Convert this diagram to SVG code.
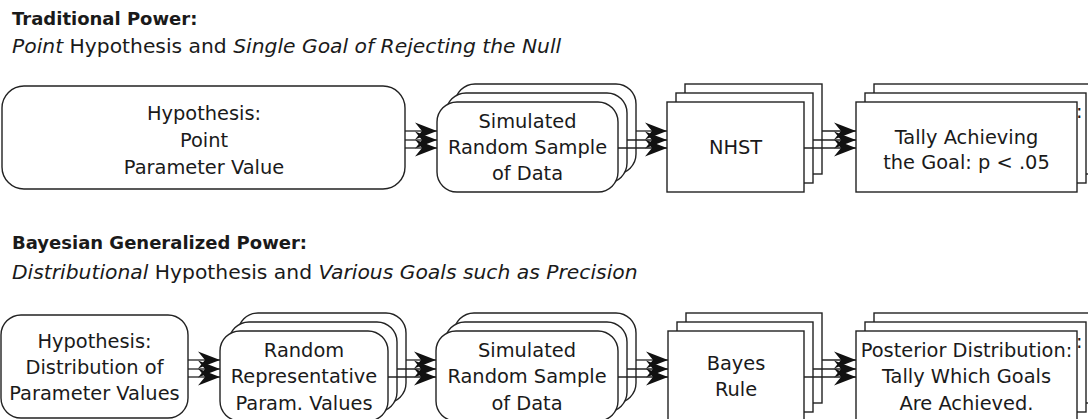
<svg xmlns="http://www.w3.org/2000/svg" width="1088" height="419" viewBox="0 0 1088 419">
<defs>
<style>
.bx{fill:#fff;stroke:#222;stroke-width:1.4}
.t{font-family:"DejaVu Sans",Verdana,sans-serif;font-size:19.4px;fill:#1a1a1a;text-anchor:middle}
.ttl{font-family:"DejaVu Sans",Verdana,sans-serif;font-size:18px;font-weight:bold;fill:#1a1a1a}
.sub{font-family:"DejaVu Sans",Verdana,sans-serif;font-size:20.3px;fill:#1a1a1a}
.it{font-style:italic}
.ln{stroke:#222;stroke-width:1.3;fill:none;marker-end:url(#ah)}
</style>
<marker id="ah" viewBox="-24 -10 25 20" refX="0" refY="0" markerWidth="25" markerHeight="20" markerUnits="userSpaceOnUse" orient="auto">
<path d="M0,0 L-22,-8.5 L-15,0 L-22,8.5 Z" fill="#111"/>
</marker>
</defs>

<g id="title-top">
<text class="ttl" x="12" y="25">Traditional Power:</text>
<text class="sub" x="12" y="53"><tspan class="it">Point</tspan> Hypothesis and <tspan class="it">Single Goal of Rejecting the Null</tspan></text>
</g>
<g id="title-bottom">
<text class="ttl" x="12" y="249">Bayesian Generalized Power:</text>
<text class="sub" x="12" y="279"><tspan class="it">Distributional</tspan> Hypothesis and <tspan class="it">Various Goals such as Precision</tspan></text>
</g>

<!-- top row -->
<g id="t-hyp">
<rect class="bx" x="2" y="86" width="403" height="103" rx="22"/>
<text class="t" x="204" y="120">Hypothesis:</text>
<text class="t" x="204" y="147">Point</text>
<text class="t" x="204" y="174">Parameter Value</text>
</g>
<g id="t-sim">
<rect class="bx" x="455" y="84" width="181" height="90" rx="20"/>
<rect class="bx" x="446" y="93" width="181" height="90" rx="20"/>
<rect class="bx" x="437" y="102" width="181" height="90" rx="20"/>
<text class="t" x="527.5" y="128">Simulated</text>
<text class="t" x="527.5" y="154">Random Sample</text>
<text class="t" x="527.5" y="180">of Data</text>
</g>
<g id="t-nhst">
<rect class="bx" x="685" y="84" width="137" height="90"/>
<rect class="bx" x="676" y="93" width="137" height="90"/>
<rect class="bx" x="667" y="102" width="137" height="90"/>
<text class="t" x="735.5" y="154">NHST</text>
</g>
<g id="t-tally">
<rect class="bx" x="874" y="84" width="221" height="90"/>
<rect class="bx" x="865" y="93" width="221" height="90"/>
<text class="t" x="1076" y="118" style="text-anchor:start">:</text>
<rect class="bx" x="856" y="102" width="221" height="90"/>
<text class="t" x="966.5" y="144">Tally Achieving</text>
<text class="t" x="966.5" y="169">the Goal: p &lt; .05</text>
</g>

<!-- bottom row -->
<g id="b-hyp">
<rect class="bx" x="1" y="315" width="187" height="103" rx="20"/>
<text class="t" x="94.5" y="348">Hypothesis:</text>
<text class="t" x="94.5" y="374">Distribution of</text>
<text class="t" x="94.5" y="400">Parameter Values</text>
</g>
<g id="b-rand">
<rect class="bx" x="238" y="313" width="168" height="90" rx="20"/>
<rect class="bx" x="229" y="322" width="168" height="90" rx="20"/>
<rect class="bx" x="220" y="331" width="168" height="90" rx="20"/>
<text class="t" x="304" y="357">Random</text>
<text class="t" x="304" y="383">Representative</text>
<text class="t" x="304" y="410">Param. Values</text>
</g>
<g id="b-sim">
<rect class="bx" x="454" y="313" width="182" height="90" rx="20"/>
<rect class="bx" x="445" y="322" width="182" height="90" rx="20"/>
<rect class="bx" x="436" y="331" width="182" height="90" rx="20"/>
<text class="t" x="527" y="357">Simulated</text>
<text class="t" x="527" y="383">Random Sample</text>
<text class="t" x="527" y="410">of Data</text>
</g>
<g id="b-bayes">
<rect class="bx" x="686" y="313" width="136" height="90"/>
<rect class="bx" x="677" y="322" width="136" height="90"/>
<rect class="bx" x="668" y="331" width="136" height="90"/>
<text class="t" x="736" y="370">Bayes</text>
<text class="t" x="736" y="396">Rule</text>
</g>
<g id="b-post">
<rect class="bx" x="874" y="313" width="221" height="90"/>
<rect class="bx" x="865" y="322" width="221" height="90"/>
<text class="t" x="1076" y="348" style="text-anchor:start">:</text>
<rect class="bx" x="856" y="331" width="221" height="90"/>
<text class="t" x="966.5" y="357">Posterior Distribution:</text>
<text class="t" x="966.5" y="383">Tally Which Goals</text>
<text class="t" x="966.5" y="410">Are Achieved.</text>
</g>

<g id="connectors">
<path class="ln" d="M405,131H437"/>
<path class="ln" d="M405,140H437"/>
<path class="ln" d="M405,148H437"/>
<path class="ln" d="M636,131H667"/>
<path class="ln" d="M627,140H667"/>
<path class="ln" d="M618,148H667"/>
<path class="ln" d="M822,131H856"/>
<path class="ln" d="M813,140H856"/>
<path class="ln" d="M804,148H856"/>
<path class="ln" d="M188,360H220"/>
<path class="ln" d="M188,369H220"/>
<path class="ln" d="M188,377H220"/>
<path class="ln" d="M406,360H436"/>
<path class="ln" d="M397,369H436"/>
<path class="ln" d="M388,377H436"/>
<path class="ln" d="M636,360H668"/>
<path class="ln" d="M627,369H668"/>
<path class="ln" d="M618,377H668"/>
<path class="ln" d="M822,360H856"/>
<path class="ln" d="M813,369H856"/>
<path class="ln" d="M804,377H856"/>
</g>
</svg>
